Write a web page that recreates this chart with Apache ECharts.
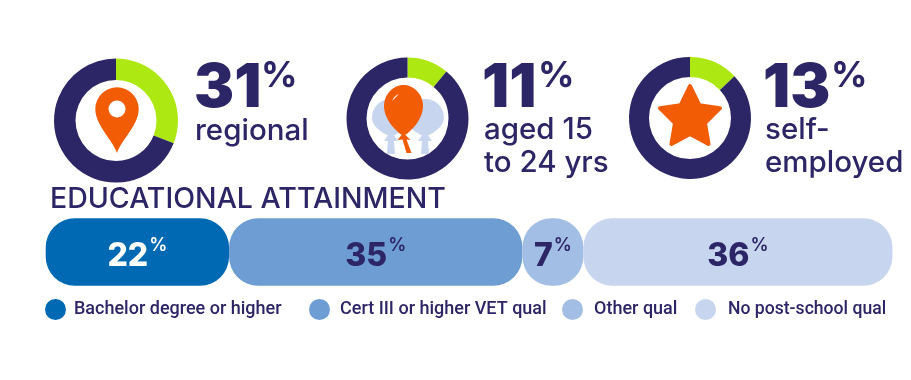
<!DOCTYPE html>
<html><head><meta charset="utf-8">
<style>html,body{margin:0;padding:0;background:#fff}#c{width:911px;height:380px}</style>
<script src="https://cdn.jsdelivr.net/npm/echarts@6/dist/echarts.min.js"></script>
</head><body><div id="c"></div>
<script>
// Data
const donutValues = [31, 11, 13];
const donutCaptions = ['regional', 'aged 15\nto 24 yrs', 'self-\nemployed'];
const attainmentTitle = 'EDUCATIONAL ATTAINMENT';
const attainmentNames = ['Bachelor degree or higher', 'Cert III or higher VET qual', 'Other qual', 'No post-school qual'];
const attainmentShares = [21.65, 34.63, 7.2, 36.49];   // bar lengths as measured; labels round them

// Style / layout
const NAVY = '#2c2566', GREEN = '#aee813', ORANGE = '#f25c05';
const barColors = ['#0069b4', '#6d9dd3', '#a3bee5', '#c7d5ef'];
const labelColors = ['#ffffff', NAVY, NAVY, NAVY];
const FONT = 'Inter';
const donutLayout = [
  { c: [116, 120.5], r: [40.5, 62], numX: 194, pctX: 261, capX: 195, capY: 131 },
  { c: [407.5, 118.5], r: [41, 61], numX: 482, pctX: 538, capX: 484, capY: 147 },
  { c: [690, 118], r: [41, 61], numX: 763, pctX: 831, capX: 765, capY: 147 }
];
const legendLayout = [
  { left: 45, pad: 3, size: 18 },
  { left: 309, pad: 5, size: 18 },
  { left: 562, pad: 6, size: 18 },
  { left: 695, pad: 7, size: 17.6 }
];

const pies = donutValues.map((v, i) => ({
  type: 'pie', silent: true, animation: false,
  center: donutLayout[i].c, radius: donutLayout[i].r,
  startAngle: 90, clockwise: true,
  label: { show: false }, labelLine: { show: false },
  data: [
    { value: v, itemStyle: { color: GREEN } },
    { value: 100 - v, itemStyle: { color: NAVY } }
  ]
}));

const bars = attainmentShares.map((v, i) => ({
  type: 'bar', name: attainmentNames[i], stack: 'a', barWidth: 67.4, silent: true, animation: false,
  itemStyle: { color: barColors[i], borderRadius: 29 },
  label: {
    show: true, position: 'inside', color: labelColors[i],
    formatter: () => '{n|' + Math.round(v) + '}{p|%}',
    rich: {
      n: { fontFamily: FONT, fontWeight: 800, fontSize: 32, color: labelColors[i], padding: [8, 0, 0, 0] },
      p: { fontFamily: FONT, fontWeight: 600, fontSize: 18, color: labelColors[i], padding: [0, 0, 12, 1] }
    }
  },
  data: [v]
}));

const legends = attainmentNames.map((n, i) => ({
  left: legendLayout[i].left, top: 299, padding: 0, itemWidth: 21, itemHeight: 21, icon: 'circle', selectedMode: false,
  textStyle: { color: NAVY, fontFamily: 'Roboto', fontWeight: 500, fontSize: legendLayout[i].size, padding: [0, 0, 0, legendLayout[i].pad] },
  data: [{ name: n, itemStyle: { color: barColors[i] } }]
}));

const texts = [];
donutValues.forEach((v, i) => {
  const L = donutLayout[i];
  texts.push({ type: 'text', silent: true, x: L.numX, y: 89, style: { text: String(v), fill: NAVY, font: '900 60px ' + FONT, verticalAlign: 'middle', align: 'left' } });
  texts.push({ type: 'text', silent: true, x: L.pctX, y: 76, style: { text: '%', fill: NAVY, font: '700 36px ' + FONT, verticalAlign: 'middle', align: 'left' } });
  texts.push({ type: 'text', silent: true, x: L.capX, y: L.capY, style: { text: donutCaptions[i], fill: NAVY, font: '500 29.5px ' + FONT, lineHeight: 33, verticalAlign: 'middle', align: 'left' } });
});

// Decorative icons: outline, bounding box [x, y, w, h], colour
const pinPath = 'M0 44C-5 30-21.7 16-21.7 0A21.7 21.7 0 1 1 21.7 0C21.7 16 5 30 0 44Z';
const holePath = 'M-8.5 0A8.5 8.5 0 1 1 8.5 0A8.5 8.5 0 1 1 -8.5 0Z';
const balloonPath = 'M0-26C-11-26-19.5-16-19.5-5C-19.5 8-8 20-1.5 24L1.5 24C8 20 19.5 8 19.5-5C19.5-16 11-26 0-26Z';
const tailPath = 'M-2 0L-6 5L-1 4.5L3 18L8 18L3 4.5L7 5L2 0Z';
const ghostPath = 'M0-18C-11-18-19-10-19 1C-19 9-10 15-3 18.5L-7 24L-3 24L-4 37L4 37L3 24L7 24L3 18.5C10 15 19 9 19 1C19-10 11-18 0-18Z';
const glintPath = 'M-3 3C-2 0 1-3 4-4C1-1-1 1-3 3Z';
const starPath = 'M0-33L9.7-13.3L31.4-10.2L15.7 5.1L19.4 26.7L0 16.5L-19.4 26.7L-15.7 5.1L-31.4-10.2L-9.7-13.3Z';
const icons = [
  { d: pinPath, box: [95.3, 87.3, 43.4, 65.7], fill: ORANGE },
  { d: holePath, box: [108.5, 100.5, 17, 17], fill: '#ffffff' },
  { d: ghostPath, box: [372, 99, 38, 55], fill: barColors[3] },
  { d: ghostPath, box: [406, 99, 38, 55], fill: barColors[3] },
  { d: balloonPath, box: [384, 85, 39, 50], fill: ORANGE },
  { d: tailPath, box: [397.5, 135, 14, 18], fill: ORANGE },
  { d: glintPath, box: [392, 94, 7, 7], fill: '#ffffff' },
  { d: starPath, box: [660, 86, 60, 58], fill: ORANGE, stroke: ORANGE }
];
const iconSeries = {
  type: 'custom', coordinateSystem: 'none', silent: true, animation: false, z: 5,
  data: icons.map((_, i) => i),
  renderItem: (params) => {
    const ic = icons[params.dataIndex];
    return {
      type: 'path',
      shape: { pathData: ic.d, layout: 'cover', x: ic.box[0], y: ic.box[1], width: ic.box[2], height: ic.box[3] },
      style: { fill: ic.fill, stroke: ic.stroke || null, lineWidth: ic.stroke ? 4 : 0, lineJoin: 'round' }
    };
  }
};

const chart = echarts.init(document.getElementById('c'), null, { renderer: 'canvas' });
chart.setOption({
  backgroundColor: '#fff',
  animation: false,
  title: { text: attainmentTitle, left: 50, top: 185, padding: 0, textStyle: { color: NAVY, fontFamily: FONT, fontWeight: 500, fontSize: 28.5 } },
  grid: { left: 45.7, top: 218.3, width: 847, height: 67.4, containLabel: false },
  xAxis: { type: 'value', min: 0, max: 100, show: false },
  yAxis: { type: 'category', data: ['a'], show: false },
  legend: legends,
  graphic: { elements: texts },
  series: pies.concat(bars, [iconSeries])
});
</script></body></html>
